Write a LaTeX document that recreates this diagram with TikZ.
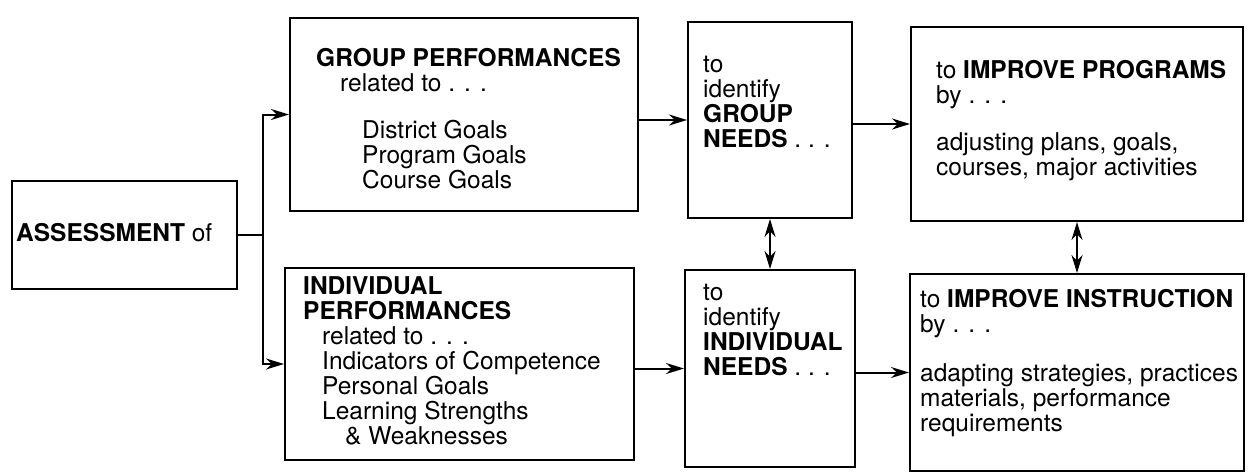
\documentclass[tikz,border=0pt]{standalone}
\usepackage{fontspec}
\setmainfont{TeX Gyre Heros}
\usetikzlibrary{arrows.meta}

\begin{document}
\begin{tikzpicture}[x=1pt,y=-1pt,
  box/.style={draw, rectangle, line width=2pt, inner sep=0pt},
  txt/.style={anchor=north west, inner sep=0pt, align=left, font=\fontsize{24.5}{25}\selectfont},
  arr/.style={line width=2pt, -{Stealth[length=18pt,width=11pt]}},
  dbl/.style={line width=2pt, {Stealth[length=18pt,width=11pt]}-{Stealth[length=18pt,width=11pt]}}]
\useasboundingbox (0,0) rectangle (1248,474);
\node[box, minimum width=225pt, minimum height=108pt] (assess) at (124.5,235) {};
\node[box, minimum width=348pt, minimum height=193pt] (grp) at (464,114.5) {};
\node[box, minimum width=164pt, minimum height=196pt] (grpneed) at (770,120) {};
\node[box, minimum width=332pt, minimum height=194pt] (prog) at (1077,124) {};
\node[box, minimum width=349pt, minimum height=192pt] (ind) at (459.5,364) {};
\node[box, minimum width=170pt, minimum height=197pt] (indneed) at (770,368.5) {};
\node[box, minimum width=334pt, minimum height=197pt] (instr) at (1077,372.5) {};
\node[txt, anchor=base west] (assesstxt) at (16,241) {\textbf{ASSESSMENT} of};
\node[txt] (grptxt) at (316,48) {\textbf{GROUP PERFORMANCES}\\
  \hspace*{24pt}related to . . .\\[22pt]
  \hspace*{46pt}District Goals\\
  \hspace*{46pt}Program Goals\\
  \hspace*{46pt}Course Goals};
\node[txt] (grpneedtxt) at (703,56) {to\\identify\\\textbf{GROUP}\\\textbf{NEEDS} . . .};
\node[txt] (progtxt) at (936,60) {to \textbf{IMPROVE PROGRAMS}\\by . . .\\[22pt]
  adjusting plans, goals,\\courses, major activities};
\node[txt] (indtxt) at (303,276) {\textbf{INDIVIDUAL}\\\textbf{PERFORMANCES}\\
  \hspace*{19pt}related to . . .\\
  \hspace*{19pt}Indicators of Competence\\
  \hspace*{19pt}Personal Goals\\
  \hspace*{19pt}Learning Strengths\\
  \hspace*{42pt}\& Weaknesses};
\node[txt] (indneedtxt) at (703,284) {to\\identify\\\textbf{INDIVIDUAL}\\\textbf{NEEDS} . . .};
\node[txt] (instrtxt) at (920,289) {to \textbf{IMPROVE INSTRUCTION}\\by . . .\\[24pt]
  adapting strategies, practices\\materials, performance\\requirements};
\coordinate (fork) at (263,235);
\draw[line width=2pt] (assess.east) -- (fork);
\draw[arr] (fork) |- (grp.west);
\draw[arr] (fork) |- (ind.west);
\draw[arr] (grp.east |- grpneed.west) -- (grpneed.west);
\draw[arr] (grpneed.east |- prog.west) -- (prog.west);
\draw[arr] (ind.east |- indneed.west) -- (indneed.west);
\draw[arr] (indneed.east |- instr.west) -- (instr.west);
\draw[dbl] (grpneed) -- (indneed);
\draw[dbl] (prog) -- (instr);
\end{tikzpicture}
\end{document}
